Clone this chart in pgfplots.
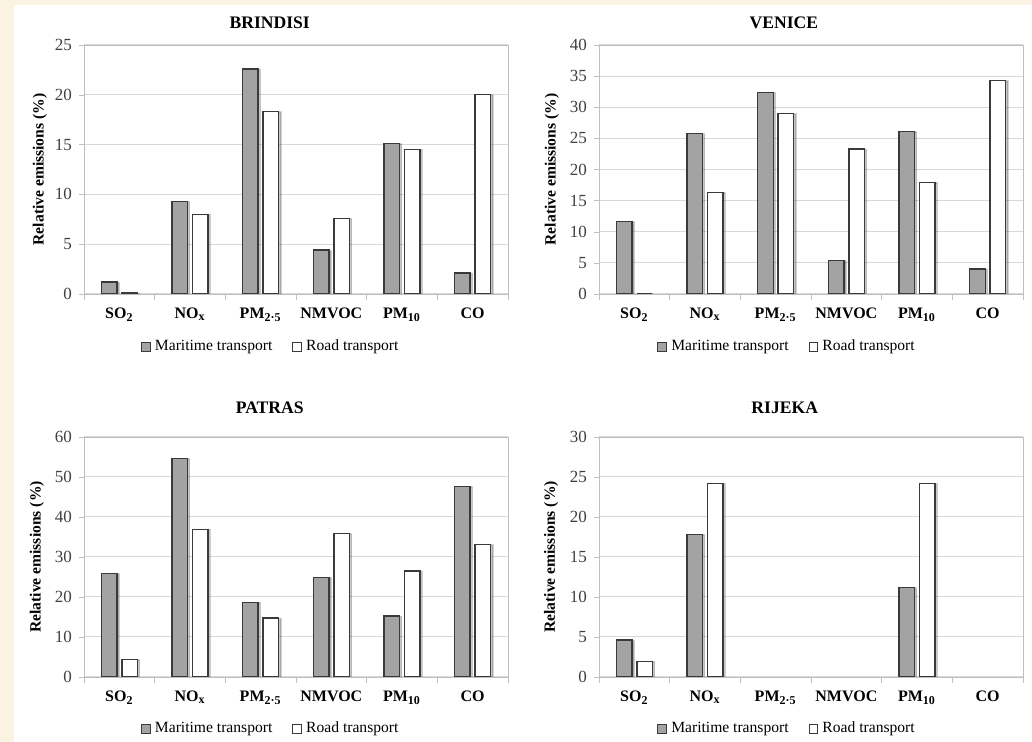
\documentclass[border=0pt]{standalone}
\usepackage{fontspec}
\setmainfont{Liberation Serif}
\usepackage{pgfplots}
\pgfplotsset{compat=1.18}
\usetikzlibrary{shadows}
\definecolor{cream}{HTML}{FBF3E2}
\definecolor{margray}{HTML}{A3A3A3}
\definecolor{edge}{HTML}{3A3A3A}
\definecolor{gridc}{HTML}{D9D9D9}
\definecolor{framec}{HTML}{BFBFBF}
\definecolor{ticktext}{HTML}{404040}
\pgfplotsset{
  emis/.style={
    scale only axis, width=212pt,
    ybar, bar width=0.22,
    xmin=-0.5, xmax=5.5, ymin=0,
    xtick={0,1,2,3,4,5},
    xticklabels={SO\textsubscript{2},NO\textsubscript{x},PM\textsubscript{2·5},NMVOC,PM\textsubscript{10},CO},
    minor xtick={-0.5,0.5,1.5,2.5,3.5,4.5,5.5},
    major x tick style={draw=none},
    minor x tick style={framec},
    y tick style={framec},
    major tick length=2.5pt, minor tick length=3pt,
    tick align=outside, xtick pos=left, ytick pos=left,
    axis line style={framec},
    ymajorgrids, grid style={gridc, line width=0.5pt},
    /pgf/number format/assume math mode=true,
    yticklabel style={font=\fontsize{8.5}{9}\selectfont, text=ticktext},
    xticklabel style={font=\bfseries\fontsize{8}{9}\selectfont, anchor=base, yshift=-10pt},
    ylabel={Relative emissions (\%)},
    ylabel style={font=\bfseries\fontsize{7.8}{9}\selectfont, at={(axis description cs:-0.104,0.5)}, anchor=center},
    title style={font=\bfseries\fontsize{8.8}{10}\selectfont, anchor=center},
    legend columns=2,
    legend image code/.code={\draw[#1,draw=edge,line width=0.5pt] (0pt,-2.2pt) rectangle (4.4pt,2.2pt);},
    legend style={draw=none, fill=none, font=\fontsize{7.8}{9}\selectfont, anchor=center,
      /tikz/every even column/.append style={column sep=8pt}},
  },
  mar/.style={forget plot, fill=margray, draw=edge, line width=0.7pt, bar shift=-0.145,
    drop shadow={shadow xshift=1.1pt, shadow yshift=-0.2pt, fill=black, opacity=0.22}},
  road/.style={forget plot, fill=white, draw=edge, line width=0.7pt, bar shift=0.145,
    drop shadow={shadow xshift=1.1pt, shadow yshift=-0.2pt, fill=black, opacity=0.22}},
  leg/.style={
    /pgfplots/execute at end axis={},
  },
}
\newcommand{\addlegs}{%
  \addlegendimage{fill=margray}\addlegendentry{Maritime transport}
  \addlegendimage{fill=white}\addlegendentry{Road transport}}
\begin{document}
\begin{tikzpicture}
\fill[white] (0,0) rectangle (516pt,371pt);
\fill[cream] (0,0) rectangle (7pt,371pt);
\fill[cream] (0,368.5pt) rectangle (516pt,371pt);
\path[use as bounding box] (0,0) rectangle (516pt,371pt);

% BRINDISI
\begin{axis}[emis, at={(42pt,224pt)}, anchor=south west, height=124.5pt,
  ymax=25, ytick={0,5,...,25},
  title={BRINDISI}, title style={at={(axis description cs:0.438,1)}, yshift=5pt},
  legend style={at={(axis description cs:0.443,-0.213)}}]
\addplot[mar] coordinates {(0,1.2) (1,9.3) (2,22.6) (3,4.4) (4,15.1) (5,2.1)};
\addplot[road] coordinates {(0,0.1) (1,8.0) (2,18.3) (3,7.6) (4,14.5) (5,20.0)};
\addlegs
\end{axis}

% VENICE
\begin{axis}[emis, at={(299.5pt,224pt)}, anchor=south west, height=124.5pt,
  ymax=40, ytick={0,5,...,40},
  ylabel style={at={(axis description cs:-0.111,0.5)}},
  title={VENICE}, title style={at={(axis description cs:0.436,1)}, yshift=5pt},
  legend style={at={(axis description cs:0.446,-0.213)}}]
\addplot[mar] coordinates {(0,11.6) (1,25.8) (2,32.4) (3,5.4) (4,26.1) (5,4.0)};
\addplot[road] coordinates {(0,0) (1,16.3) (2,29.0) (3,23.3) (4,17.9) (5,34.3)};
\addlegs
\end{axis}

% PATRAS
\begin{axis}[emis, at={(42pt,32.5pt)}, anchor=south west, height=120pt,
  ymax=60, ytick={0,10,...,60},
  ylabel style={at={(axis description cs:-0.111,0.5)}},
  title={PATRAS}, title style={at={(axis description cs:0.438,1)}, yshift=8.5pt},
  legend style={at={(axis description cs:0.443,-0.217)}}]
\addplot[mar] coordinates {(0,25.8) (1,54.6) (2,18.6) (3,24.9) (4,15.2) (5,47.6)};
\addplot[road] coordinates {(0,4.3) (1,36.9) (2,14.7) (3,35.8) (4,26.5) (5,33.1)};
\addlegs
\end{axis}

% RIJEKA
\begin{axis}[emis, at={(299.5pt,32.5pt)}, anchor=south west, height=120pt,
  ymax=30, ytick={0,5,...,30},
  ylabel style={at={(axis description cs:-0.113,0.5)}},
  title={RIJEKA}, title style={at={(axis description cs:0.438,1)}, yshift=8.5pt},
  legend style={at={(axis description cs:0.446,-0.217)}}]
\addplot[mar] coordinates {(0,4.6) (1,17.8) (4,11.2)};
\addplot[road] coordinates {(0,1.9) (1,24.2) (4,24.2)};
\addlegs
\end{axis}
\end{tikzpicture}
\end{document}
